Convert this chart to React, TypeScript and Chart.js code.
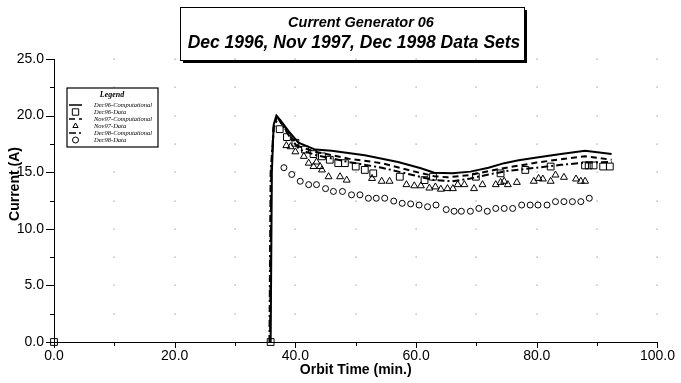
import React, { useEffect, useRef } from 'react';
import { Chart, registerables } from 'chart.js';

Chart.register(...registerables);

// ---- Data ----
const xTickLabels = ['0.0', '20.0', '40.0', '60.0', '80.0', '100.0'];
const yTickLabels = ['0.0', '5.0', '10.0', '15.0', '20.0', '25.0'];

const dec96CompX = [35.9, 36.1, 36.4, 36.85, 37.5, 38.9, 40.5, 43.3, 46.0, 51.5, 57.0, 60.8, 63.0, 66.0, 69.0, 72.0, 74.6, 77.0, 80.0, 84.0, 88.0, 92.4];
const dec96CompY = [0, 15.0, 19.2, 20.0, 19.6, 18.6, 17.6, 17.0, 16.9, 16.5, 15.9, 15.35, 14.95, 14.9, 15.05, 15.4, 15.8, 16.05, 16.3, 16.6, 16.9, 16.6];

const nov97CompX = [35.8, 36.0, 36.4, 36.95, 37.6, 39.0, 40.5, 43.3, 48.8, 54.3, 59.8, 63.0, 65.2, 69.0, 72.0, 75.0, 80.0, 84.0, 88.0, 92.4];
const nov97CompY = [0, 15.0, 19.0, 19.9, 19.4, 18.3, 17.3, 16.8, 16.2, 15.8, 15.05, 14.65, 14.55, 14.75, 15.1, 15.4, 15.85, 16.15, 16.4, 16.1];

const dec98CompX = [35.7, 35.9, 36.4, 37.1, 37.8, 39.2, 40.7, 43.5, 48.8, 54.3, 59.8, 63.0, 66.0, 69.0, 72.0, 75.0, 80.0, 84.0, 88.0, 92.4];
const dec98CompY = [0, 15.0, 18.9, 19.8, 19.2, 18.0, 17.0, 16.5, 15.9, 15.4, 14.7, 14.3, 14.2, 14.45, 14.8, 15.1, 15.4, 15.65, 15.85, 15.9];

const dec96DataX = [0, 35.9, 37.4, 38.6, 40.0, 41.6, 43.0, 44.4, 45.7, 47.1, 48.2, 50.0, 51.5, 52.9, 57.3, 61.4, 62.8, 69.9, 74.0, 78.1, 82.3, 88.0, 88.6, 89.4, 91.0, 92.1];
const dec96DataY = [0, 0, 18.8, 18.1, 17.6, 17.0, 16.6, 16.4, 16.1, 15.8, 15.8, 15.5, 15.2, 14.9, 14.6, 14.3, 14.6, 14.6, 14.9, 15.2, 15.5, 15.6, 15.6, 15.6, 15.5, 15.5];

const nov97DataX = [38.5, 39.2, 40.0, 41.4, 42.2, 43.0, 43.5, 44.1, 44.4, 45.5, 47.4, 48.5, 52.7, 54.3, 55.6, 58.4, 59.7, 60.8, 62.2, 63.2, 64.1, 65.2, 66.1, 66.9, 68.0, 69.6, 71.0, 73.2, 74.0, 74.6, 75.2, 76.7, 79.5, 80.3, 81.0, 82.3, 83.1, 84.5, 86.5, 87.3, 88.0];
const nov97DataY = [17.35, 17.25, 16.8, 16.4, 15.8, 15.5, 15.9, 15.5, 15.2, 14.6, 14.6, 14.3, 14.45, 14.2, 14.2, 13.9, 13.8, 13.8, 13.6, 13.7, 13.5, 13.55, 13.55, 13.9, 13.9, 13.55, 13.9, 13.9, 14.1, 14.2, 13.9, 14.1, 14.2, 14.45, 14.4, 14.2, 14.75, 14.55, 14.4, 14.2, 14.2];

const dec98DataX = [38.1, 39.4, 40.8, 42.2, 43.5, 45.0, 46.3, 47.8, 49.3, 50.7, 52.1, 53.4, 54.8, 56.3, 57.7, 59.1, 60.5, 61.9, 63.3, 65.0, 66.3, 67.5, 69.0, 70.4, 71.8, 73.2, 74.6, 76.0, 77.5, 78.9, 80.2, 81.7, 83.1, 84.5, 85.9, 87.3, 88.7];
const dec98DataY = [15.4, 14.8, 14.2, 13.9, 13.9, 13.55, 13.3, 13.3, 13.0, 13.0, 12.7, 12.7, 12.7, 12.45, 12.25, 12.2, 12.1, 11.95, 12.1, 11.7, 11.55, 11.55, 11.55, 11.8, 11.55, 11.8, 11.8, 11.8, 12.1, 12.1, 12.1, 12.1, 12.4, 12.4, 12.4, 12.4, 12.7];

const seriesNames = ['Dec96-Computational', 'Dec96-Data', 'Nov97-Computational', 'Nov97-Data', 'Dec98-Computational', 'Dec98-Data'];
const titleLine1 = 'Current Generator 06';
const titleLine2 = 'Dec 1996, Nov 1997, Dec 1998 Data Sets';
const xAxisTitle = 'Orbit Time (min.)';
const yAxisTitle = 'Current (A)';
const legendTitle = 'Legend';

const pts = (xs: number[], ys: number[]) => xs.map((x, i) => ({ x, y: ys[i] }));

const SANS = '"Liberation Sans", Arial, sans-serif';
const SERIF = '"Liberation Serif", "Times New Roman", serif';

function drawMarker(ctx: CanvasRenderingContext2D, style: string, x: number, y: number, r: number) {
  ctx.beginPath();
  if (style === 'rect') {
    const s = r * Math.SQRT1_2;
    ctx.rect(x - s, y - s, 2 * s, 2 * s);
  } else if (style === 'triangle') {
    ctx.moveTo(x, y - r);
    ctx.lineTo(x + r * 0.87, y + r * 0.5);
    ctx.lineTo(x - r * 0.87, y + r * 0.5);
    ctx.closePath();
  } else {
    ctx.arc(x, y, r, 0, Math.PI * 2);
  }
  ctx.stroke();
}

const decorPlugin = {
  id: 'decor',
  beforeDatasetsDraw(chart: any) {
    const { ctx, scales } = chart;
    const xs = scales.x, ys = scales.y;
    ctx.save();
    // dotted grid points
    ctx.fillStyle = '#9a9a9a';
    for (let gx = 10; gx <= 100; gx += 10) {
      for (let gy = 2.5; gy <= 25; gy += 2.5) {
        const px = Math.round(xs.getPixelForValue(gx));
        const py = Math.round(ys.getPixelForValue(gy));
        ctx.fillRect(px - 0.5, py - 0.5, 1.2, 1.2);
      }
    }
    // ticks
    ctx.strokeStyle = '#000';
    ctx.lineWidth = 1;
    const axisY = ys.getPixelForValue(0);
    for (let gx = 0; gx <= 100; gx += 10) {
      const px = Math.round(xs.getPixelForValue(gx)) + 0.5;
      const len = gx % 20 === 0 ? 6 : 4;
      ctx.beginPath();
      ctx.moveTo(px, axisY);
      ctx.lineTo(px, axisY + len);
      ctx.stroke();
    }
    const axisX = xs.getPixelForValue(0);
    for (let gy = 0; gy <= 25; gy += 2.5) {
      const py = Math.round(ys.getPixelForValue(gy)) + 0.5;
      const len = gy % 5 === 0 ? 8 : 4;
      ctx.beginPath();
      ctx.moveTo(axisX - len, py);
      ctx.lineTo(axisX, py);
      ctx.stroke();
    }
    // y axis title
    ctx.fillStyle = '#000';
    ctx.font = 'bold 14px ' + SANS;
    ctx.textAlign = 'center';
    ctx.textBaseline = 'middle';
    ctx.translate(15, 184);
    ctx.rotate(-Math.PI / 2);
    ctx.fillText(yAxisTitle, 0, 0);
    ctx.restore();
  },
  afterDraw(chart: any) {
    const { ctx } = chart;
    ctx.save();
    // title box
    ctx.strokeStyle = '#000';
    ctx.lineWidth = 1;
    ctx.strokeRect(180.5, 7.5, 344, 53);
    ctx.fillStyle = '#000';
    ctx.fillRect(525, 10, 2, 53);
    ctx.fillRect(183, 61, 344, 2);
    ctx.textAlign = 'center';
    ctx.textBaseline = 'middle';
    ctx.font = 'italic bold 14.5px ' + SANS;
    ctx.fillText(titleLine1, 361, 23);
    ctx.font = 'italic bold 17.5px ' + SANS;
    ctx.fillText(titleLine2, 354, 43);

    // legend box
    ctx.fillStyle = '#fff';
    ctx.fillRect(67, 88, 91, 59);
    ctx.lineWidth = 1.2;
    ctx.strokeStyle = '#000';
    ctx.strokeRect(67, 88, 91, 59);
    ctx.fillStyle = '#000';
    ctx.font = 'italic bold 8px ' + SERIF;
    ctx.textAlign = 'center';
    ctx.fillText(legendTitle, 112, 95);
    const ds = chart.data.datasets;
    ctx.font = 'italic 6.5px ' + SERIF;
    ctx.textAlign = 'left';
    for (let i = 0; i < ds.length; i++) {
      const y = 105 + i * 7;
      const d = ds[i];
      ctx.strokeStyle = '#000';
      if (d.showLine) {
        ctx.lineWidth = 1.5;
        ctx.setLineDash(d.borderDash || []);
        ctx.beginPath();
        ctx.moveTo(69, y);
        ctx.lineTo(82, y);
        ctx.stroke();
        ctx.setLineDash([]);
      } else {
        ctx.lineWidth = 1;
        drawMarker(ctx, d.pointStyle, 75.5, y, d.pointStyle === 'rect' ? 4.5 : 3);
      }
      ctx.fillText(d.label, 94, y);
    }
    ctx.restore();
  },
};

export default function App() {
  const ref = useRef<HTMLCanvasElement>(null);
  useEffect(() => {
    document.body.style.margin = '0';
    const canvas = ref.current!;
    const lineDs = (label: string, xs: number[], ys: number[], dash: number[]) => ({
      label,
      data: pts(xs, ys),
      showLine: true,
      borderColor: '#000',
      borderWidth: 2,
      borderDash: dash,
      pointRadius: 0,
      tension: 0,
      fill: false,
      clip: false as any,
    });
    const markDs = (label: string, xs: number[], ys: number[], style: string, r: number) => ({
      label,
      data: pts(xs, ys),
      showLine: false,
      pointStyle: style,
      pointRadius: r,
      borderColor: '#000',
      backgroundColor: 'rgba(0,0,0,0)',
      pointBorderWidth: 1,
      clip: false as any,
    });
    const chart = new Chart(canvas, {
      type: 'scatter',
      data: {
        datasets: [
          lineDs(seriesNames[0], dec96CompX, dec96CompY, []),
          markDs(seriesNames[1], dec96DataX, dec96DataY, 'rect', 4.8),
          lineDs(seriesNames[2], nov97CompX, nov97CompY, [6, 4]),
          markDs(seriesNames[3], nov97DataX, nov97DataY, 'triangle', 4),
          lineDs(seriesNames[4], dec98CompX, dec98CompY, [7, 3, 2, 3]),
          markDs(seriesNames[5], dec98DataX, dec98DataY, 'circle', 3),
        ] as any,
      },
      options: {
        responsive: false,
        animation: false,
        events: [],
        layout: { padding: { top: 59, right: 20, left: 0, bottom: 0 } },
        plugins: {
          legend: { display: false },
          tooltip: { enabled: false },
          title: { display: false },
        },
        scales: {
          x: {
            type: 'linear',
            position: 'bottom',
            min: 0,
            max: 100,
            afterFit: (s: any) => { s.height = 41; },
            ticks: {
              stepSize: 10,
              autoSkip: false,
              maxRotation: 0,
              padding: 6,
              color: '#000',
              font: { family: SANS, size: 14 },
              callback: (v: any) => (Number(v) % 20 === 0 ? xTickLabels[Number(v) / 20] : ''),
            },
            grid: { display: true, drawOnChartArea: false, drawTicks: false, color: '#000' },
            border: { display: true, color: '#000', width: 1 },
            title: {
              display: true,
              text: xAxisTitle,
              color: '#000',
              font: { family: SANS, size: 14, weight: 'bold' },
              padding: { top: 0, bottom: 4 },
            },
          },
          y: {
            type: 'linear',
            min: 0,
            max: 25,
            afterFit: (s: any) => { s.width = 54; },
            ticks: {
              stepSize: 2.5,
              autoSkip: false,
              padding: 10,
              color: '#000',
              font: { family: SANS, size: 14 },
              callback: (v: any) => (Number(v) % 5 === 0 ? yTickLabels[Number(v) / 5] : ''),
            },
            grid: { display: true, drawOnChartArea: false, drawTicks: false, color: '#000' },
            border: { display: true, color: '#000', width: 1 },
          },
        },
      } as any,
      plugins: [decorPlugin],
    });
    return () => chart.destroy();
  }, []);
  return (
    <div style={{ width: 681, height: 383 }}>
      <canvas ref={ref} width={681} height={383} style={{ display: 'block' }} />
    </div>
  );
}
